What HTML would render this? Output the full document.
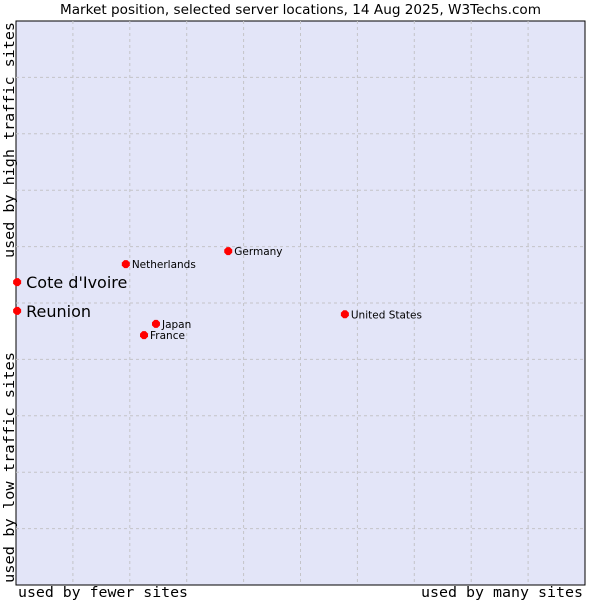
<!DOCTYPE html>
<html><head><meta charset="utf-8"><style>
body{margin:0;background:#fff;width:600px;height:600px;overflow:hidden}
svg text{font-family:"DejaVu Sans",sans-serif}
.mono{font-family:"DejaVu Sans Mono","Liberation Mono",monospace}
</style></head><body>
<svg id="c" width="600" height="600" xmlns="http://www.w3.org/2000/svg">
<text x="60" y="14" textLength="481" lengthAdjust="spacingAndGlyphs" font-size="13" fill="#000">Market position, selected server locations, 14 Aug 2025, W3Techs.com</text>
<rect x="16" y="21" width="569" height="564" fill="#e3e5f8" stroke="#000" stroke-width="1"/>
<g id="grid"></g>
<g id="pts"></g>
<text class="mono" x="18" y="597" font-size="14" textLength="170" lengthAdjust="spacingAndGlyphs">used by fewer sites</text>
<text class="mono" x="421" y="597" font-size="14" textLength="162" lengthAdjust="spacingAndGlyphs">used by many sites</text>
<text class="mono" transform="translate(14,583) rotate(-90)" font-size="14" textLength="231" lengthAdjust="spacingAndGlyphs">used by low traffic sites</text>
<text class="mono" transform="translate(14,258) rotate(-90)" font-size="14" textLength="236" lengthAdjust="spacingAndGlyphs">used by high traffic sites</text>
</svg>
<script>
const names=["Cote d'Ivoire","Reunion","Netherlands","Germany","United States","Japan","France"];
const xs=[0.2,0.2,19.3,37.3,57.8,24.6,22.5];
const ys=[53.7,48.6,56.9,59.2,48.0,46.3,44.3];
const big=[true,true,false,false,false,false,false];
const L=16,R=585,T=21,B=585;
const sx=v=>L+v/100*(R-L), sy=v=>B-v/100*(B-T);
const NS="http://www.w3.org/2000/svg";
const g=document.getElementById('grid'), p=document.getElementById('pts');
for(let i=1;i<10;i++){
 const x=sx(i*10),y=sy(i*10);
 const a=document.createElementNS(NS,'line');
 
 
 a.setAttribute('x1',x);a.setAttribute('x2',x);a.setAttribute('y1',T);a.setAttribute('y2',B);
 a.setAttribute('stroke','#c4c4c8');a.setAttribute('stroke-dasharray','3,3');g.appendChild(a);
 const b=document.createElementNS(NS,'line');
 
 
 b.setAttribute('x1',L);b.setAttribute('x2',R);b.setAttribute('y1',y);b.setAttribute('y2',y);
 b.setAttribute('stroke','#c4c4c8');b.setAttribute('stroke-dasharray','3,3');g.appendChild(b);
}
names.forEach((n,i)=>{
 const x=sx(xs[i]),y=sy(ys[i]);
 const d=document.createElementNS(NS,'polygon');
 
 
 d.setAttribute('points',`${x-4},${y-1.5} ${x-1.5},${y-4} ${x+1.5},${y-4} ${x+4},${y-1.5} ${x+4},${y+1.5} ${x+1.5},${y+4} ${x-1.5},${y+4} ${x-4},${y+1.5}`);
 d.setAttribute('fill','#f00');p.appendChild(d);
 const t=document.createElementNS(NS,'text');
 
 
 t.setAttribute('x',x+(big[i]?9:6));t.setAttribute('y',y+(big[i]?6:4));
 t.setAttribute('font-size',big[i]?'16':'10.5');t.textContent=n;p.appendChild(t);
});
</script>
</body></html>
